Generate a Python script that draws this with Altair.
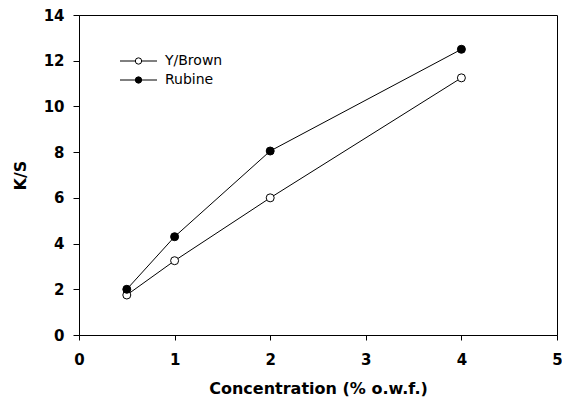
import altair as alt
import pandas as pd

conc = [0.5, 1, 2, 4]
y_brown = [1.75, 3.25, 6.0, 11.25]
rubine = [2.0, 4.3, 8.05, 12.5]
series_names = ["Y/Brown", "Rubine"]
series_fill = ["white", "black"]

rows = []
for name, vals, order in [("Y/Brown", y_brown, 0), ("Rubine", rubine, 1)]:
    for c, v in zip(conc, vals):
        rows.append({"conc": c, "ks": v, "series": name, "order": order})
df = pd.DataFrame(rows)

FONT = "DejaVu Sans"
W, H = 478, 320

xscale = alt.Scale(domain=[0, 5], nice=False)
yscale = alt.Scale(domain=[0, 14], nice=False)

x_axis = alt.Axis(
    values=[0, 1, 2, 3, 4, 5], format="d", grid=False, tickSize=5,
    labelPadding=12, labelFont=FONT, labelFontWeight="bold", labelFontSize=15,
    labelColor="black", tickColor="black", domainColor="black",
    title="Concentration (% o.w.f.)", titleFont=FONT, titleFontWeight="bold",
    titleFontSize=16, titleColor="black", titleX=W / 2, titleY=53,
    titleBaseline="middle", labelFlush=False,
)
y_axis = alt.Axis(
    values=[0, 2, 4, 6, 8, 10, 12, 14], grid=False, tickSize=6,
    labelPadding=9, labelFont=FONT, labelFontWeight="bold", labelFontSize=15,
    labelColor="black", tickColor="black", domainColor="black",
    title="K/S", titleFont=FONT, titleFontWeight="bold", titleFontSize=16,
    titleColor="black", titleX=-59, titleY=H / 2, titleAngle=-90,
    titleBaseline="middle", titleAlign="center",
)

base = alt.Chart(df)

lines = base.mark_line(color="black", strokeWidth=1).encode(
    x=alt.X("conc:Q", scale=xscale, axis=x_axis),
    y=alt.Y("ks:Q", scale=yscale, axis=y_axis),
    detail="series:N",
)

pts_layers = []
for name, fill in zip(series_names, series_fill):
    pts_layers.append(
        alt.Chart(df[df.series == name]).mark_point(
            shape="circle", filled=True, fill=fill, stroke="black",
            strokeWidth=1, size=64, opacity=1,
        ).encode(x="conc:Q", y="ks:Q")
    )

# manual legend
leg = pd.DataFrame({"series": series_names, "fill": series_fill, "row": [0, 1]})
leg_y = {"Y/Brown": 46, "Rubine": 65}
leg_layers = []
for name, fill in zip(series_names, series_fill):
    yy = leg_y[name]
    d = leg[leg.series == name]
    leg_layers.append(
        alt.Chart(d).mark_rule(color="black", strokeWidth=1).encode(
            x=alt.value(41), x2=alt.value(78), y=alt.value(yy)
        )
    )
    leg_layers.append(
        alt.Chart(d).mark_point(
            shape="circle", filled=True, fill=fill, stroke="black",
            strokeWidth=1, size=40, opacity=1,
        ).encode(x=alt.value(59.5), y=alt.value(yy))
    )
    leg_layers.append(
        alt.Chart(d).mark_text(
            align="left", baseline="middle", font=FONT, fontSize=14, color="black"
        ).encode(x=alt.value(86), y=alt.value(yy), text="series:N")
    )

chart = alt.layer(lines, *pts_layers, *leg_layers).properties(
    width=W, height=H,
    autosize=alt.AutoSizeParams(type="none"),
    padding={"left": 71, "top": 7, "right": 5, "bottom": 62},
    background="white",
).configure_view(stroke="black", strokeWidth=1)

chart.save("out.html", embed_options={"renderer": "svg", "actions": False})
